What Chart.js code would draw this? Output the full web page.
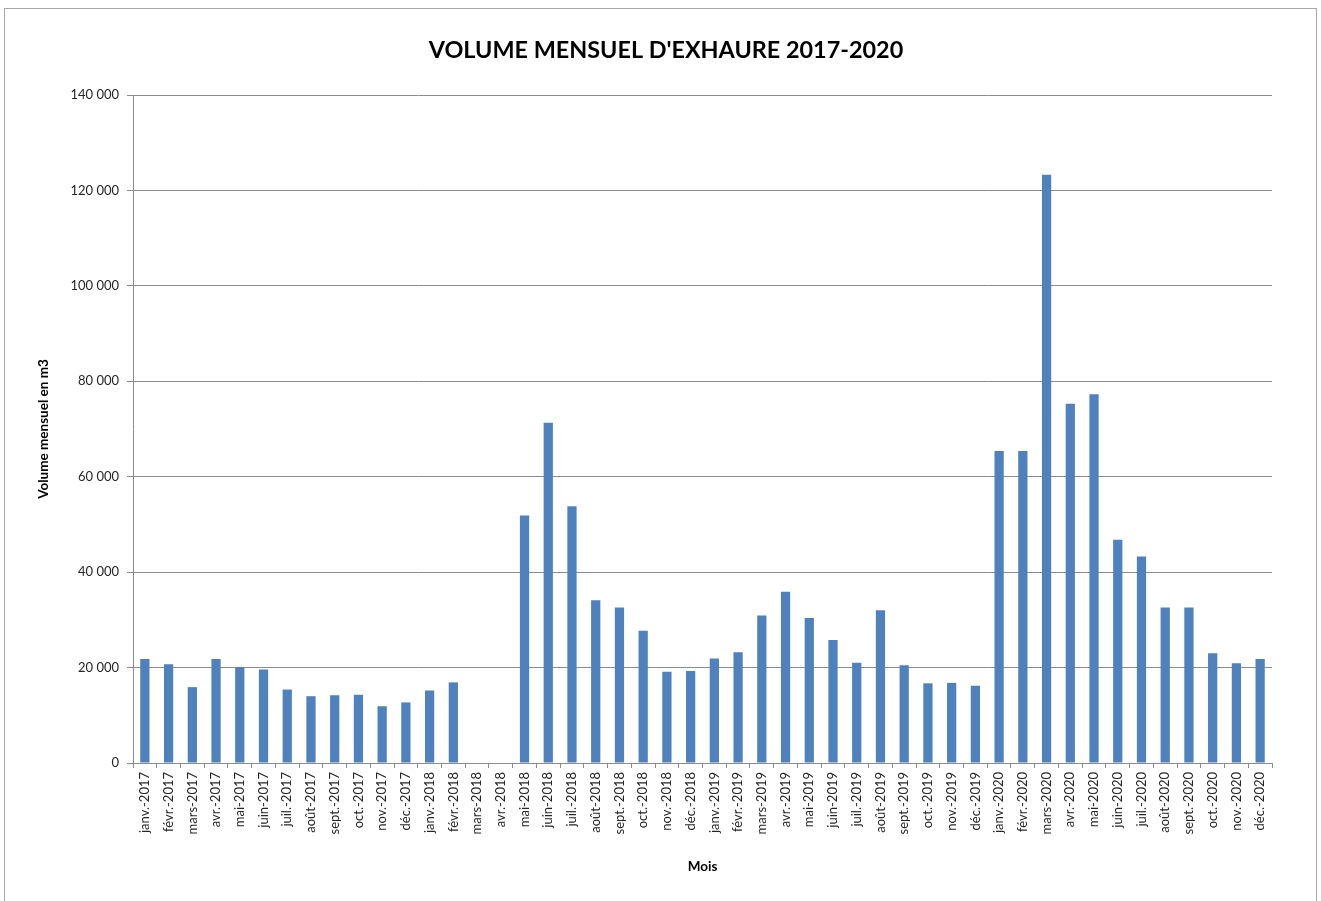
<!DOCTYPE html>
<html>
<head>
<meta charset="utf-8">
<script src="https://cdn.jsdelivr.net/npm/chart.js@4.4.1/dist/chart.umd.min.js"></script>
<style>
  html, body { margin: 0; padding: 0; background: #ffffff; }
  #wrap { position: relative; width: 1321px; height: 901px; overflow: hidden; }
  #frame { position: absolute; left: 4px; top: 8px; width: 1313px; height: 910px; border: 1px solid #a8a8a8; box-sizing: border-box; pointer-events: none; }
  canvas { position: absolute; left: 0; top: 0; }
</style>
</head>
<body>
<div id="wrap">
  <div id="frame"></div>
  <canvas id="c" width="1321" height="901"></canvas>
</div>
<script>
const months = ["janv.", "févr.", "mars", "avr.", "mai", "juin", "juil.", "août", "sept.", "oct.", "nov.", "déc."];
const years = [2017, 2018, 2019, 2020];
const categories = [];
years.forEach(y => months.forEach(m => categories.push(m + "-" + y)));

const volumes2017 = [21800, 20700, 15900, 21800, 20100, 19600, 15400, 14000, 14200, 14300, 11900, 12700];
const volumes2018 = [15200, 16900, null, null, 51900, 71300, 53800, 34100, 32600, 27700, 19100, 19300];
const volumes2019 = [21900, 23200, 30900, 35900, 30400, 25800, 21000, 32000, 20500, 16700, 16800, 16200];
const volumes2020 = [65400, 65400, 123300, 75300, 77300, 46800, 43300, 32600, 32600, 23000, 20900, 21800];
const volumes = [...volumes2017, ...volumes2018, ...volumes2019, ...volumes2020];

const chartTitle = "VOLUME MENSUEL D'EXHAURE 2017-2020";
const yTitle = "Volume mensuel en m3";
const xTitle = "Mois";

function fmt(v) {
  return String(Math.round(v)).replace(/\B(?=(\d{3})+(?!\d))/g, " ");
}

const FONT = "Lato, 'Open Sans', sans-serif";

new Chart(document.getElementById("c"), {
  type: "bar",
  data: {
    labels: categories,
    datasets: [{
      data: volumes,
      backgroundColor: "#4F81BD",
      borderWidth: 0,
      barPercentage: 0.39,
      categoryPercentage: 1.0
    }]
  },
  options: {
    responsive: false,
    animation: false,
    layout: { padding: { left: 60, right: 49, top: 0, bottom: 0 } },
    plugins: {
      legend: { display: false },
      tooltip: { enabled: false },
      title: {
        display: true,
        text: chartTitle,
        color: "#000000",
        font: { family: FONT, size: 23.4, weight: "bold", lineHeight: 1.1 },
        padding: { top: 38, bottom: 31.3 }
      }
    },
    scales: {
      x: {
        grid: {
          display: true,
          drawOnChartArea: false,
          drawTicks: true,
          tickLength: 5,
          color: "#8c8c8c",
          offset: true
        },
        border: { display: true, color: "#8c8c8c", width: 1 },
        ticks: {
          autoSkip: false,
          maxRotation: 90,
          minRotation: 90,
          padding: 4,
          color: "#262626",
          font: { family: FONT, size: 13 }
        },
        title: {
          display: true,
          text: xTitle,
          color: "#000000",
          font: { family: FONT, size: 13.5, weight: "bold", lineHeight: 1.2 },
          padding: { top: 4, bottom: 26 }
        },
        afterFit(scale) { scale.height = 138; }
      },
      y: {
        min: 0,
        max: 140000,
        ticks: {
          stepSize: 20000,
          padding: 8,
          color: "#262626",
          font: { family: FONT, size: 13 },
          callback: (v) => fmt(v)
        },
        grid: {
          color: "#8c8c8c",
          lineWidth: 1,
          drawTicks: true,
          tickLength: 6
        },
        border: { display: true, color: "#8c8c8c", width: 1 },
        title: {
          display: true,
          text: yTitle,
          color: "#000000",
          font: { family: FONT, size: 13.5, weight: "bold", lineHeight: 1.2 },
          padding: { top: -24, bottom: 4 }
        },
        afterFit(scale) { scale.width = 73; }
      }
    }
  }
});
</script>
</body>
</html>
